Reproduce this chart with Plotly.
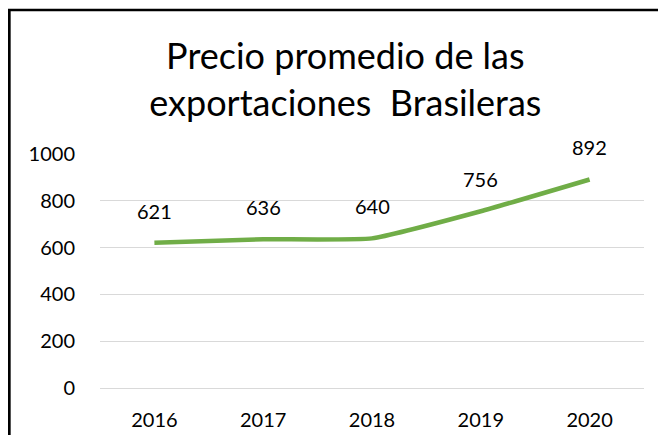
import plotly.graph_objects as go

years = ["2016", "2017", "2018", "2019", "2020"]
precio = [621, 636, 640, 756, 892]
y_ticks = [0, 200, 400, 600, 800, 1000]

font_family = "Lato, 'Open Sans', sans-serif"

fig = go.Figure()

# smoothed line like the Excel original
fig.add_trace(go.Scatter(
    x=years,
    y=precio,
    mode="lines",
    line=dict(color="#70AD47", width=4.5, shape="spline", smoothing=0.4),
    hoverinfo="skip",
    showlegend=False,
))

# data labels sit well above each point (category index on the x axis)
for i, val in enumerate(precio):
    fig.add_annotation(
        x=i, y=val, text=str(val),
        showarrow=False, yshift=32,
        font=dict(family=font_family, size=20, color="#000000"),
    )

# chart area frame: left and top edges visible, the rest runs off the picture
fig.add_shape(
    type="rect", xref="paper", yref="paper",
    x0=-0.1667, x1=1.2, y0=-0.4, y1=1.6154,
    line=dict(color="#000000", width=2.7),
    fillcolor="rgba(0,0,0,0)",
    layer="above",
)

fig.update_layout(
    width=650,
    height=427,
    margin=dict(l=92, r=14, t=146, b=47),
    paper_bgcolor="white",
    plot_bgcolor="white",
    title=dict(
        text="Precio promedio de las<br>exportaciones\u00a0 Brasileras",
        x=0.519, xanchor="center",
        yref="container", y=0.856, yanchor="middle",
        font=dict(family=font_family, size=36, color="#000000"),
    ),
    xaxis=dict(
        type="category",
        range=[-0.5, 4.5],
        automargin=False,
        showgrid=False,
        showline=False,
        ticks="",
        ticklabelstandoff=18,
        tickfont=dict(family=font_family, size=20, color="#000000"),
        fixedrange=True,
    ),
    yaxis=dict(
        range=[0, 1001],
        tickvals=y_ticks,
        automargin=False,
        showgrid=True,
        gridcolor="#D9D9D9",
        gridwidth=1,
        zeroline=True,
        zerolinecolor="#D9D9D9",
        zerolinewidth=1,
        showline=False,
        ticks="",
        ticklabelstandoff=24,
        tickfont=dict(family=font_family, size=20, color="#000000"),
        fixedrange=True,
    ),
)

fig.write_html("out.html")
